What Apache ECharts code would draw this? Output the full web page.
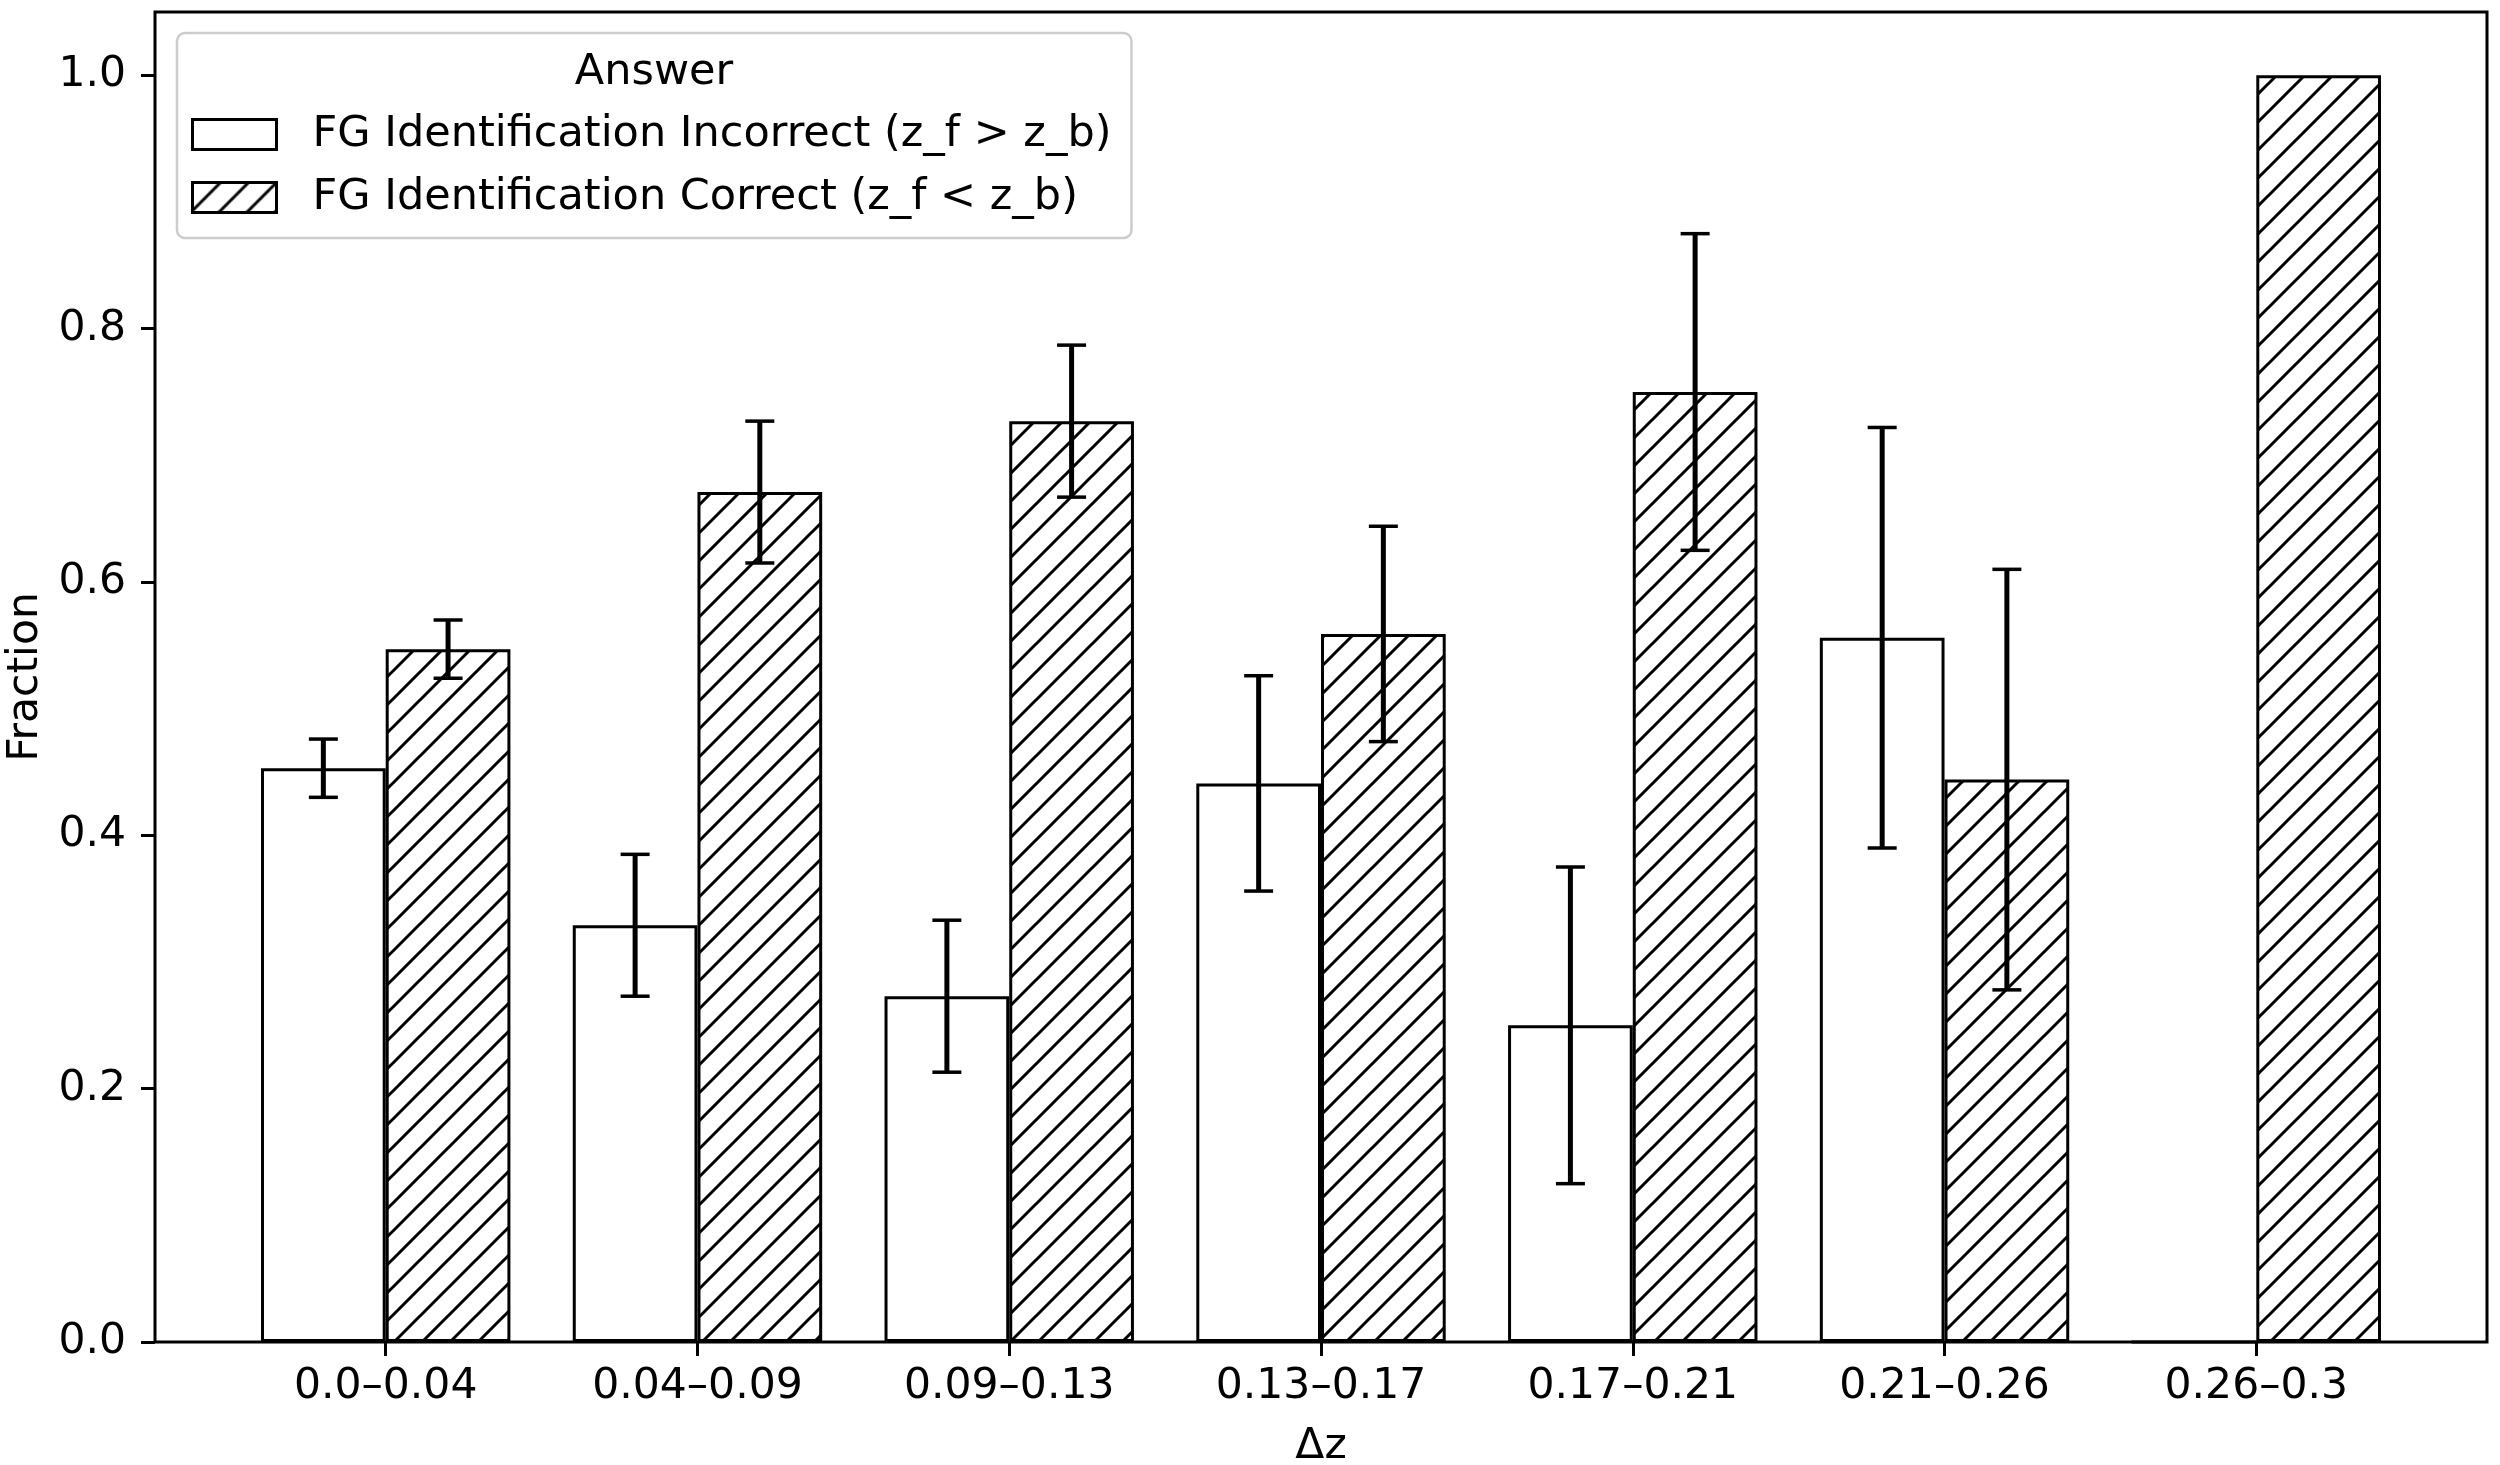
<!DOCTYPE html>
<html>
<head>
<meta charset="utf-8">
<script src="https://cdn.jsdelivr.net/npm/echarts@6/dist/echarts.min.js"></script>
<style>
  html, body { margin: 0; padding: 0; background: #fff; }
  #chart { width: 2500px; height: 1465px; }
</style>
</head>
<body>
<div id="chart"></div>
<script>
// ---------------- data ----------------
const categories = ['0.0–0.04', '0.04–0.09', '0.09–0.13', '0.13–0.17', '0.17–0.21', '0.21–0.26', '0.26–0.3'];
const seriesNames = ['FG Identification Incorrect (z_f > z_b)', 'FG Identification Correct (z_f < z_b)'];
const incorrectValues = [0.453, 0.329, 0.273, 0.441, 0.250, 0.556, 0.0];
const incorrectErrors = [0.023, 0.056, 0.060, 0.085, 0.125, 0.166, 0.0];
const correctValues   = [0.547, 0.671, 0.727, 0.559, 0.750, 0.444, 1.0];
const correctErrors   = [0.023, 0.056, 0.060, 0.085, 0.125, 0.166, 0.0];
const yTicks = [0.0, 0.2, 0.4, 0.6, 0.8, 1.0];
const legendTitle = 'Answer';
const xAxisName = 'Δz';
const yAxisName = 'Fraction';

// ---------------- layout ----------------
const FONT = '"DejaVu Sans", sans-serif';
const FS = 42.5;
const LFS = 43;
const PLOT_L = 155, PLOT_R = 2487, PLOT_T = 12, PLOT_B = 1342;
const X_MIN = -0.74, X_MAX = 6.74;          // matplotlib-like data limits
const unit = (PLOT_R - PLOT_L) / (X_MAX - X_MIN);
const gridLeft = PLOT_L + (-0.5 - X_MIN) * unit;
const gridRight = PLOT_R - (X_MAX - (categories.length - 0.5)) * unit;
const yOffset = gridLeft - PLOT_L;

// hatch pattern "//"
function makeHatch() {
  const s = 28;
  const c = document.createElement('canvas');
  c.width = s; c.height = s;
  const ctx = c.getContext('2d');
  ctx.fillStyle = '#fff';
  ctx.fillRect(0, 0, s, s);
  ctx.strokeStyle = '#000';
  ctx.lineWidth = 3;
  ctx.beginPath();
  ctx.moveTo(-s, 2 * s); ctx.lineTo(2 * s, -s);
  ctx.moveTo(-s, s); ctx.lineTo(s, -s);
  ctx.moveTo(0, 2 * s); ctx.lineTo(2 * s, 0);
  ctx.stroke();
  return c;
}
const hatch = makeHatch();

const errData = [];
for (let i = 0; i < categories.length; i++) {
  if (incorrectErrors[i] > 0) errData.push([i, incorrectValues[i], incorrectErrors[i], -1]);
  if (correctErrors[i] > 0) errData.push([i, correctValues[i], correctErrors[i], 1]);
}

const chart = echarts.init(document.getElementById('chart'), null, { renderer: 'canvas' });
const option = {
  animation: false,
  backgroundColor: '#fff',
  grid: {
    left: gridLeft, right: 2500 - gridRight, top: PLOT_T, bottom: 1465 - PLOT_B,
    containLabel: false,
    outerBoundsMode: 'none'
  },
  xAxis: {
    type: 'category',
    data: categories,
    boundaryGap: true,
    name: xAxisName,
    nameLocation: 'middle',
    nameGap: 83,
    nameTextStyle: { fontFamily: FONT, fontSize: FS, color: '#000' },
    axisLine: { show: false },
    axisTick: { show: true, alignWithLabel: true, length: 14, lineStyle: { color: '#000', width: 3 } },
    axisLabel: { fontFamily: FONT, fontSize: FS, color: '#000', margin: 23 },
    splitLine: { show: false }
  },
  yAxis: {
    type: 'value',
    min: 0, max: 1.05,
    offset: yOffset,
    name: yAxisName,
    nameLocation: 'middle',
    nameGap: 99,
    nameTextStyle: { fontFamily: FONT, fontSize: FS, color: '#000' },
    axisLine: { show: false },
    axisTick: { show: true, length: 14, customValues: yTicks, lineStyle: { color: '#000', width: 3 } },
    axisLabel: {
      fontFamily: FONT, fontSize: FS, color: '#000', margin: 29,
      customValues: yTicks,
      formatter: v => Number(v).toFixed(1)
    },
    splitLine: { show: false }
  },
  legend: {
    orient: 'vertical',
    left: 177, top: 33,
    padding: [80, 20, 19, 14],
    itemGap: 20,
    itemWidth: 84, itemHeight: 30,
    backgroundColor: 'rgba(255,255,255,0.8)',
    borderColor: '#cccccc', borderWidth: 2.5, borderRadius: 8,
    icon: 'rect',
    itemStyle: { borderColor: '#000', borderWidth: 3 },
    textStyle: { fontFamily: FONT, fontSize: LFS, color: '#000', lineHeight: 42, padding: [0, 0, 0, 31] },
    data: seriesNames
  },
  graphic: [
    {
      type: 'text', z: 100,
      x: 654, y: 73,
      style: { text: legendTitle, font: LFS + 'px ' + FONT, fill: '#000', align: 'center', verticalAlign: 'middle' }
    },
    {
      type: 'rect', z: 90, silent: true,
      shape: { x: PLOT_L, y: PLOT_T, width: PLOT_R - PLOT_L, height: PLOT_B - PLOT_T },
      style: { fill: 'none', stroke: '#000', lineWidth: 3 }
    }
  ],
  series: [
    {
      name: seriesNames[0], type: 'bar', data: incorrectValues,
      barWidth: '40%', barGap: '0%',
      itemStyle: { color: '#fff', borderColor: '#000', borderWidth: 3 }
    },
    {
      name: seriesNames[1], type: 'bar', data: correctValues,
      barWidth: '40%', barGap: '0%',
      itemStyle: { color: { image: hatch, repeat: 'repeat' }, borderColor: '#000', borderWidth: 3 }
    },
    {
      type: 'custom', z: 5, silent: true,
      data: errData,
      encode: { x: 0, y: 1 },
      renderItem: function (params, api) {
        const idx = api.value(0), v = api.value(1), e = api.value(2), side = api.value(3);
        const band = api.size([1, 0])[0];
        const x = api.coord([idx, v])[0] + side * 0.2 * band;
        const yt = api.coord([idx, v + e])[1];
        const yb = api.coord([idx, v - e])[1];
        const cap = 14.5;
        return {
          type: 'group',
          children: [
            { type: 'line', shape: { x1: x, y1: yt, x2: x, y2: yb }, style: { stroke: '#000', lineWidth: 5 } },
            { type: 'line', shape: { x1: x - cap, y1: yt, x2: x + cap, y2: yt }, style: { stroke: '#000', lineWidth: 3.5 } },
            { type: 'line', shape: { x1: x - cap, y1: yb, x2: x + cap, y2: yb }, style: { stroke: '#000', lineWidth: 3.5 } }
          ]
        };
      }
    }
  ]
};
chart.setOption(option);
</script>
</body>
</html>
